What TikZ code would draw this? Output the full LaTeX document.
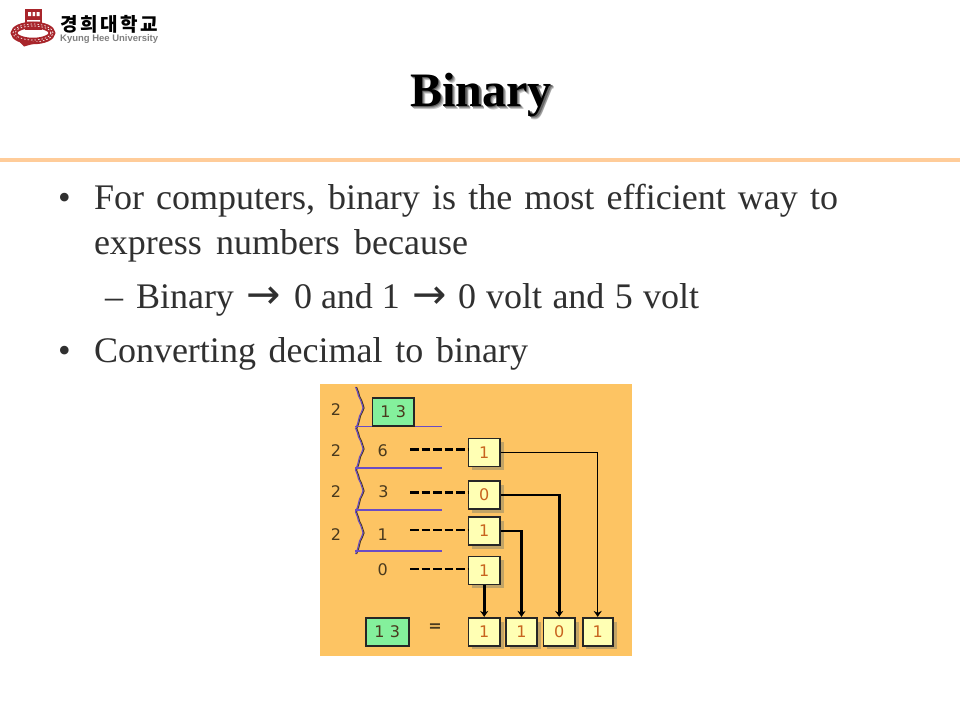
\documentclass[tikz,border=0pt]{standalone}
\usepackage{fontspec}
\setmainfont{Liberation Serif}
\newfontfamily\cjkfont{Noto Sans CJK KR}
\newfontfamily\lsans{Liberation Sans}
\newfontfamily\djv{DejaVu Sans}
\usetikzlibrary{arrows.meta,calc}
\definecolor{panel}{HTML}{FDC463}
\definecolor{rulec}{HTML}{FFCC99}
\definecolor{boxy}{HTML}{FFFFB4}
\definecolor{boxg}{HTML}{84F09C}
\definecolor{shade}{HTML}{C2A466}
\definecolor{digit}{HTML}{C8641E}
\definecolor{ink}{HTML}{4A3A1E}
\definecolor{logored}{HTML}{A8252B}
\definecolor{bodyink}{HTML}{303030}
\definecolor{purp}{HTML}{6A4CC4}
\newcommand{\bodyfs}{\fontsize{36}{40}\selectfont}
\newcommand{\digfs}{\djv\fontsize{16}{16}\selectfont}
\tikzset{
  x=1pt,y=-1pt,
  body/.style={anchor=base west,inner sep=0pt,outer sep=0pt,font=\bodyfs,text=bodyink},
  arrowglyph/.style={anchor=base west,inner sep=0pt,outer sep=0pt,font=\djv\fontsize{41}{41}\selectfont,text=bodyink},
  cell/.style={draw=black!85,line width=1.6pt,fill=boxy,minimum width=31.5pt,minimum height=28pt,inner sep=0pt,text=digit,font=\digfs},
  gcell/.style={draw=black!85,line width=1.6pt,fill=boxg,minimum height=28pt,inner sep=0pt,text=ink,font=\digfs},
  num/.style={inner sep=0pt,text=ink,font=\digfs},
  divline/.style={draw=purp,line width=1.3pt},
  dashln/.style={draw=black,line width=2.6pt,dash pattern=on 8.5pt off 3pt},
  thin conn/.style={draw=black,line width=1.3pt,-{Stealth[length=6pt,width=8pt]}},
  thick conn/.style={draw=black,line width=2.6pt,-{Stealth[length=6pt,width=8pt]}},
  cellshade/.style={fill=shade,draw=none}
}
\newcommand{\bracepts}[1]{%
  \draw[line width=1.1pt,draw=#1] plot coordinates {(0,0)(2,5)(3,9)(5,13)(7,19)(7.5,21)(6,25)(4,29)(3,33)(2,37)(0,42)};}
\begin{document}
\begin{tikzpicture}
\useasboundingbox (0,0) rectangle (960,720);
\fill[white] (0,0) rectangle (960,720);
% logo
\fill[logored] (25,9) rectangle (42,30);
\fill[white] (28,12) rectangle (31,16) (32.5,12) rectangle (35,16) (36.5,12) rectangle (39.5,16) (27,20) rectangle (40,21.5) (27,25) rectangle (40,26);
\draw[logored,line width=6.5pt] (33,33) ellipse (19pt and 8pt);
\draw[white,line width=.7pt,dash pattern=on 1.5pt off 2pt] (33,33) ellipse (20pt and 9pt);
\draw[white,line width=.7pt,dash pattern=on 1.5pt off 2pt] (33,33) ellipse (18pt and 7pt);
\fill[logored] (15,37) -- (28,41) -- (40,42) -- (24,46.5) -- cycle;
\node[anchor=base west,inner sep=0pt] (logok) at (60,31) {\makebox[98pt][s]{\cjkfont\bfseries\fontsize{19}{19}\selectfont 경\hfill 희\hfill 대\hfill 학\hfill 교}};
\node[anchor=base west,inner sep=0pt,text=black!50] (logoe) at (60,41.5) {\makebox[98pt][s]{\lsans\bfseries\fontsize{9.5}{9.5}\selectfont K\hfill y\hfill u\hfill n\hfill g\hfill\ \hfill H\hfill e\hfill e\hfill\ \hfill U\hfill n\hfill i\hfill v\hfill e\hfill r\hfill s\hfill i\hfill t\hfill y}};
% title
\foreach \o/\g in {3.2/22,2.4/40,1.6/60}{
  \node[anchor=base,inner sep=0pt,text=black!\g!white,font=\fontsize{48}{50}\selectfont\bfseries] at (481+\o,106+\o) {Binary};}
\node[anchor=base,inner sep=0pt,text=black,font=\fontsize{48}{50}\selectfont\bfseries] (title) at (481,106) {Binary};
\fill[rulec] (0,157.7) rectangle (960,161.7);
% body
\node[body] (b1) at (58,209) {•};
\node[body] (l1) at (94,209) {\makebox[744pt][s]{For computers, binary is the most efficient way to}};
\node[body] (l2) at (94,254) {\makebox[374pt][s]{express numbers because}};
\node[body] (d3) at (105,308) {–};
\node[body] (l3a) at (136,308) {Binary};
\node[arrowglyph] (a1) at (246,308) {→};
\node[body] (l3b) at (294,308) {\makebox[106pt][s]{0 and 1}};
\node[arrowglyph] (a2) at (412,308) {→};
\node[body] (l3c) at (458,308) {\makebox[241pt][s]{0 volt and 5 volt}};
\node[body] (b4) at (58,362) {•};
\node[body] (l4) at (94,362) {\makebox[434pt][s]{Converting decimal to binary}};
% panel
\fill[panel] (320,384) rectangle (632,656);
\foreach \yy in {387,428,470,512}{
  \begin{scope}[shift={(356.5,\yy)}]\bracepts{ink}\end{scope}
  \begin{scope}[shift={(355.5,\yy)}]\bracepts{purp}\end{scope}
}
\foreach \yy in {426.7,468,510,551}{\draw[divline] (355,\yy) -- (441.7,\yy);}
\foreach \yy in {410,451,492,535}{\node[num] at (336,\yy) {2};}
% shadows
\foreach \xx/\yy in {484.2/452.3,484.2/495,484.2/531,484.2/570.3,484.2/631.7,521.5/631.7,559.2/631.7,597.7/631.7}{
  \fill[cellshade] (\xx-12,\yy-10) rectangle (\xx+19.5,\yy+17.5);}
\node[gcell,minimum width=41.5pt] (g13) at (393.3,411.8) {1\,\,3};
\node[num] (n6) at (382.7,450.7) {6};
\node[num] (n3) at (383.5,492) {3};
\node[num] (n1) at (382.7,535) {1};
\node[num] (n0) at (382.7,570) {0};
\node[cell] (c1) at (484.2,452.3) {1};
\node[cell] (c2) at (484.2,495) {0};
\node[cell] (c3) at (484.2,531) {1};
\node[cell] (c4) at (484.2,570.3) {1};
\node[gcell,minimum width=43pt] (g13b) at (387.3,631.7) {1\,\,3};
\node[num,font=\djv\bfseries\fontsize{16}{16}\selectfont] (eq) at (435,628) {=};
\node[cell] (r1) at (484.2,631.7) {1};
\node[cell] (r2) at (521.5,631.7) {1};
\node[cell] (r3) at (559.2,631.7) {0};
\node[cell,minimum width=30pt] (r4) at (597.7,631.7) {1};
\coordinate (s6) at (410,449.7);
\coordinate (s3) at (410,492.3);
\coordinate (s1) at (410,530);
\coordinate (s0) at (410,569);
\draw[dashln] (s6) -- (s6-|c1.west);
\draw[dashln] (s3) -- (s3-|c2.west);
\draw[dashln] (s1) -- (s1-|c3.west);
\draw[dashln] (s0) -- (s0-|c4.west);
\draw[thin conn] (c1.east) -| (r4.north);
\draw[thick conn] (c2.east) -| (r3.north);
\draw[thick conn] (c3.east) -| (r2.north);
\draw[thick conn] (c4.south) -- (r1.north);
\end{tikzpicture}
\end{document}
